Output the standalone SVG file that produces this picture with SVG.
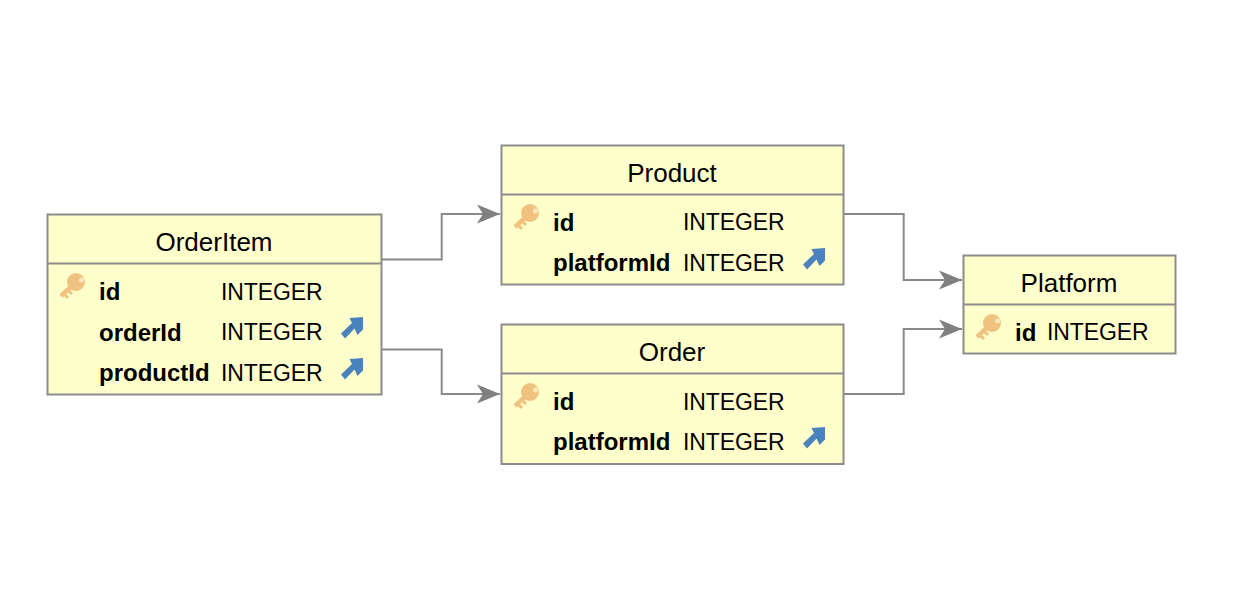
<svg xmlns="http://www.w3.org/2000/svg" xmlns:xlink="http://www.w3.org/1999/xlink" width="1238" height="606" viewBox="0 0 1238 606">
<style>
text{font-family:"Liberation Sans",Arial,sans-serif;fill:#000}
.box{fill:#ffffcc;stroke:#8c8c8c;stroke-width:2}
.sep{stroke:#8c8c8c;stroke-width:2;fill:none}
.title{font-size:26px;text-anchor:middle}
.col{font-size:24px;font-weight:bold}
.type{font-size:23px;letter-spacing:-0.100px}
.conn{fill:none;stroke:#8a8a8a;stroke-width:2;marker-end:url(#arr)}
</style>
<defs>
<marker id="arr" markerUnits="userSpaceOnUse" markerWidth="24" markerHeight="20" refX="23" refY="10" orient="auto">
<path d="M0 0.500L23 10L0 19.500L6 10Z" fill="#808080"/>
</marker>
<symbol id="key" overflow="visible">
<path d="M17 21L3 34" fill="none" stroke="#f0c27f" stroke-width="4.500"/>
<path d="M7 33L10 36M11 29L14 32" fill="none" stroke="#f0c27f" stroke-width="3"/>
<circle cx="18" cy="20" r="9" fill="#f0c27f"/>
<circle cx="23.500" cy="18" r="2.500" fill="#ffe9bb"/>
</symbol>
<symbol id="fk" overflow="visible">
<path d="M-1 16.500L3 21.500L12.500 11.500L15.500 18L21 12.500V0L7.500 1L10 6Z" fill="#4a82bd"/>
</symbol>
</defs>
<g id="connectors">
<path class="conn" d="M382 259.500H441.700V214H500"/>
<path class="conn" d="M382 349.500H441.700V394H500"/>
<path class="conn" d="M844 214H903.700V280H962"/>
<path class="conn" d="M844 394H903.700V329H962"/>
</g>
<g id="OrderItem">
<rect class="box" x="47.500" y="214.500" width="334" height="180"/>
<path class="sep" d="M47 263.500H381"/>
<text class="title" x="214" y="251">OrderItem</text>
<use xlink:href="#key" href="#key" x="58" y="262"/>
<text class="col" x="99" y="300">id</text><text class="type" x="221" y="300">INTEGER</text>
<text class="col" x="99" y="341">orderId</text><text class="type" x="221" y="340">INTEGER</text>
<use xlink:href="#fk" href="#fk" x="342" y="317"/>
<text class="col" x="99" y="381">productId</text><text class="type" x="221" y="381">INTEGER</text>
<use xlink:href="#fk" href="#fk" x="342" y="358"/>
</g>
<g id="Product">
<rect class="box" x="501.500" y="145.500" width="342" height="139"/>
<path class="sep" d="M501 194.500H843"/>
<text class="title" x="672" y="182">Product</text>
<use xlink:href="#key" href="#key" x="512" y="193"/>
<text class="col" x="553" y="231">id</text><text class="type" x="683" y="230">INTEGER</text>
<text class="col" x="553" y="271">platformId</text><text class="type" x="683" y="271">INTEGER</text>
<use xlink:href="#fk" href="#fk" x="804" y="248"/>
</g>
<g id="Order">
<rect class="box" x="501.500" y="324.500" width="342" height="139.500"/>
<path class="sep" d="M501 373.500H843"/>
<text class="title" x="672" y="361">Order</text>
<use xlink:href="#key" href="#key" x="512" y="372"/>
<text class="col" x="553" y="410">id</text><text class="type" x="683" y="410">INTEGER</text>
<text class="col" x="553" y="450">platformId</text><text class="type" x="683" y="450">INTEGER</text>
<use xlink:href="#fk" href="#fk" x="804" y="427"/>
</g>
<g id="Platform">
<rect class="box" x="963.500" y="255.500" width="212" height="98"/>
<path class="sep" d="M963 304.500H1175"/>
<text class="title" x="1069" y="292">Platform</text>
<use xlink:href="#key" href="#key" x="974" y="303"/>
<text class="col" x="1015" y="341">id</text><text class="type" x="1047" y="340">INTEGER</text>
</g>
</svg>
